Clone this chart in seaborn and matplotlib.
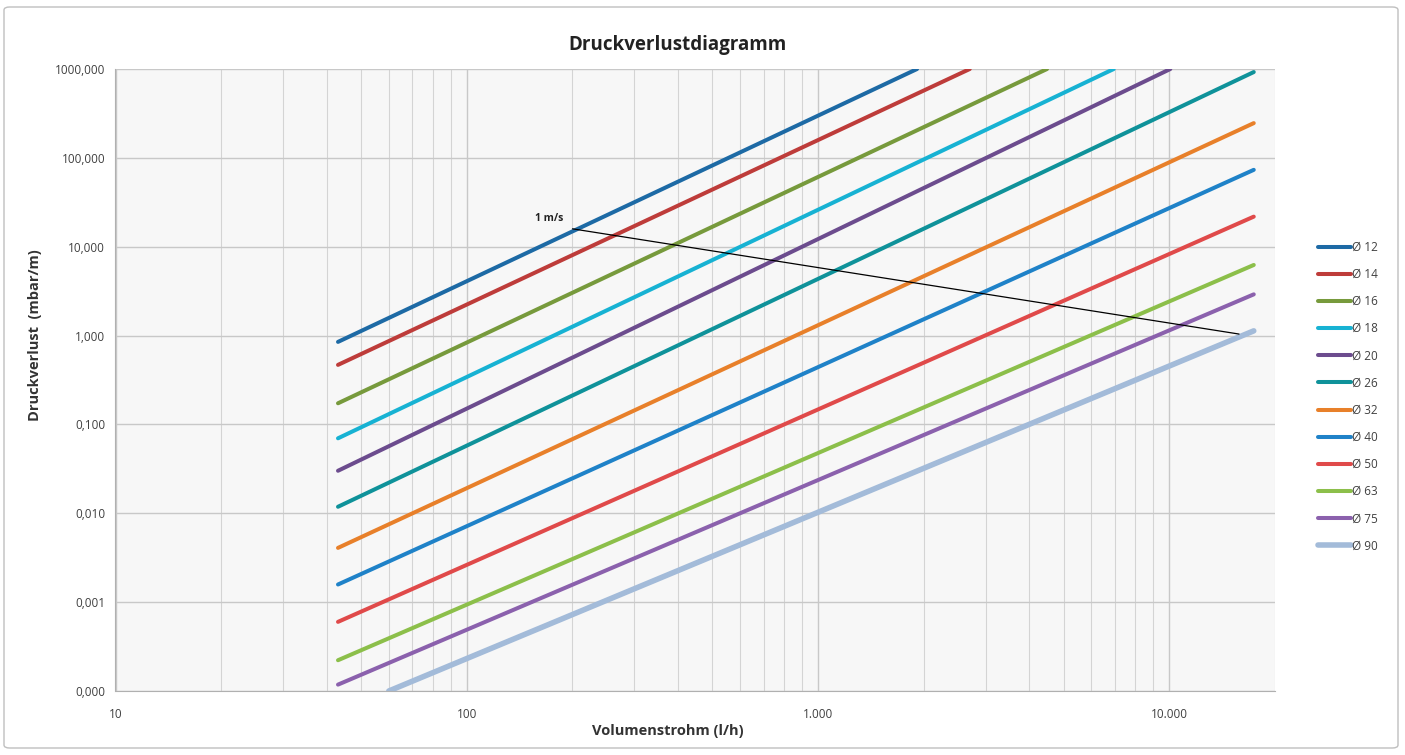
import numpy as np
import pandas as pd
import matplotlib
matplotlib.use("Agg")
import matplotlib.pyplot as plt
import matplotlib.ticker as mticker
from matplotlib.patches import FancyBboxPatch
import seaborn as sns

DURCHMESSER = ["Ø 12", "Ø 14", "Ø 16", "Ø 18", "Ø 20", "Ø 26",
               "Ø 32", "Ø 40", "Ø 50", "Ø 63", "Ø 75", "Ø 90"]
X_START = [43, 43, 43, 43, 43, 43, 43, 43, 43, 43, 43, 60]
Y_START = [0.849, 0.468, 0.173, 0.0698, 0.0301, 0.01184,
           0.00408, 0.00158, 0.000600, 0.000222, 0.000118, 0.0001]
X_END = [1914, 2704, 4487, 6949, 10070, 17400,
         17400, 17400, 17400, 17400, 17400, 17400]
Y_END = [1000, 1000, 1000, 1000, 1000, 924,
         246, 73.3, 21.8, 6.23, 2.91, 1.13]
FARBEN = ["#1d6aa5", "#be3c3a", "#779a3c", "#17b2d3", "#6c4c8e", "#0f929a",
          "#e8802a", "#1f82c8", "#e04a4a", "#8cbf4a", "#8b61ad", "#a3bbd9"]

# 1 m/s Linie
V1_X = [200, 15800]
V1_Y = [15.9, 1.04]

sns.set_style("white")
plt.rcParams['font.family'] = ['Open Sans', 'DejaVu Sans']

rows = []
for name, x0, y0, x1, y1 in zip(DURCHMESSER, X_START, Y_START, X_END, Y_END):
    rows.append({"d": name, "q": x0, "p": y0})
    rows.append({"d": name, "q": x1, "p": y1})
df = pd.DataFrame(rows)

fig = plt.figure(figsize=(14.05, 7.55), dpi=100)
ax = fig.add_axes([115.5 / 1405, 64 / 755, (1275 - 115.5) / 1405, (691 - 69) / 755])
ax.set_facecolor("#f7f7f7")

for name, col in zip(DURCHMESSER, FARBEN):
    sub = df[df["d"] == name]
    lw = 4.0 if name == "Ø 90" else 2.9
    sns.lineplot(data=sub, x="q", y="p", ax=ax, color=col, lw=lw,
                 label=name, solid_capstyle="round", sort=False)

ax.plot(V1_X, V1_Y, color="black", lw=0.9)
ax.annotate("1 m/s", (V1_X[0], V1_Y[0]), xytext=(-9, 5), textcoords="offset pixels",
            ha="right", va="bottom", fontsize=7.5, fontweight="bold", color="#222222")

ax.set_xscale("log")
ax.set_yscale("log")
ax.set_xlim(10, 20000)
ax.set_ylim(0.0001, 1000)

ax.xaxis.set_major_locator(mticker.FixedLocator([10, 100, 1000, 10000]))
ax.xaxis.set_minor_locator(mticker.LogLocator(base=10, subs=np.arange(2, 10), numticks=20))
ax.yaxis.set_major_locator(mticker.FixedLocator([1e-4, 1e-3, 1e-2, 1e-1, 1, 10, 100, 1000]))
ax.yaxis.set_minor_locator(mticker.NullLocator())
ax.xaxis.set_major_formatter(mticker.FuncFormatter(lambda v, p: f"{v:,.0f}".replace(",", ".")))
ax.yaxis.set_major_formatter(mticker.FuncFormatter(lambda v, p: f"{v:.3f}".replace(".", ",")))
ax.xaxis.set_minor_formatter(mticker.NullFormatter())

ax.grid(True, which="major", color="#c8c8c8", lw=1)
ax.grid(True, which="minor", axis="x", color="#d4d4d4", lw=0.8)
ax.set_axisbelow(True)
for s in ["top", "right"]:
    ax.spines[s].set_visible(False)
for s in ["left", "bottom"]:
    ax.spines[s].set_color("#b0b0b0")
ax.tick_params(axis="both", which="major", length=4, color="#b0b0b0",
               labelsize=8.5, labelcolor="#404040", direction="out")
ax.tick_params(axis="x", which="minor", length=0)
ax.tick_params(axis="x", pad=8)

ax.set_xlabel("Volumenstrohm (l/h)", fontsize=10.5, fontweight="bold", color="#333333")
ax.set_ylabel("Druckverlust  (mbar/m)", fontsize=10.5, fontweight="bold", color="#333333")
ax.xaxis.set_label_coords((668 - 115.5) / 1159.5, -(731 - 691) / 622, transform=ax.transAxes)
ax.yaxis.set_label_coords(-(115.5 - 35) / 1159.5, (691 - 335) / 622, transform=ax.transAxes)
ax.xaxis.label.set_va("center")
ax.yaxis.label.set_va("center")
fig.text(677 / 1405, 1 - 45 / 755, "Druckverlustdiagramm", ha="center", va="center",
         fontsize=13.5, fontweight="bold", color="#222222")

ax.legend(loc="upper left", bbox_to_anchor=(1313 / 1405, 1 - 236 / 755),
          bbox_transform=fig.transFigure, frameon=False, fontsize=8.5,
          handlelength=2.8, handletextpad=0.1, labelspacing=1.2, borderaxespad=0)
for t in ax.get_legend().get_texts():
    t.set_color("#404040")

fig.patches.append(FancyBboxPatch((4 / 1405, 7 / 755), 1394 / 1405, 741 / 755,
                                  boxstyle="round,pad=0,rounding_size=0.004",
                                  transform=fig.transFigure, fill=False,
                                  edgecolor="#bfbfbf", lw=1))

fig.savefig("out.png", dpi=100)
